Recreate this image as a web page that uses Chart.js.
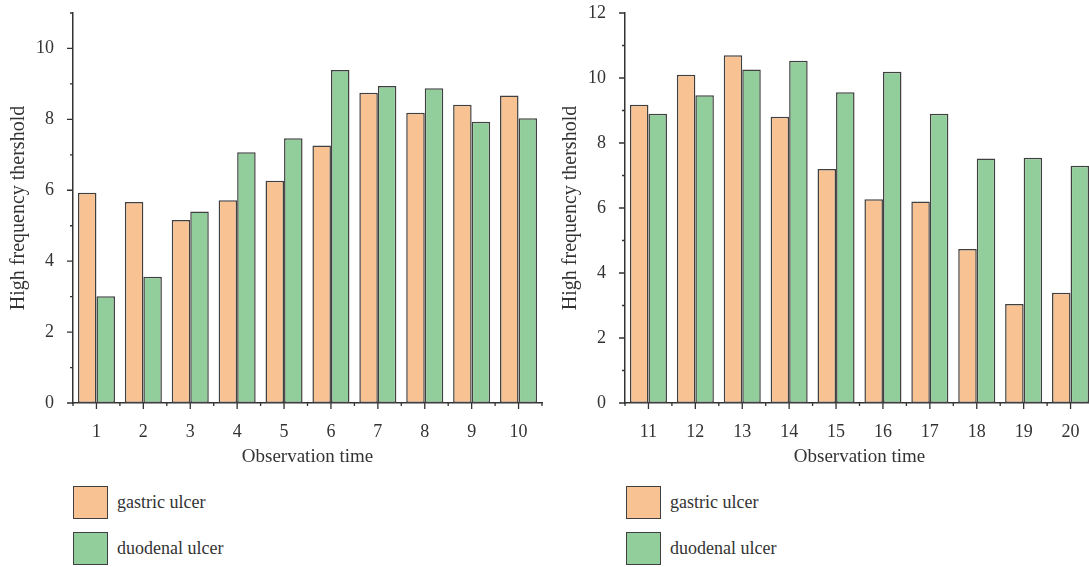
<!DOCTYPE html>
<html lang="en">
<head>
    <meta charset="UTF-8">
    <title>High frequency threshold</title>
    <script src="https://cdn.jsdelivr.net/npm/chart.js"></script>
    <style>
        body { margin: 0; width: 1089px; height: 567px; overflow: hidden; background: #fff; font-family: "Liberation Serif", serif; color: #333; }
        .panel { position: absolute; top: 0; width: 545px; height: 470px; }
        .legend { position: absolute; top: 486px; }
        .item { display: flex; align-items: center; height: 33px; margin-bottom: 13px; font-size: 18px; }
        .box { width: 33px; height: 31px; border: 1.5px solid #404040; margin-right: 9px; }
    </style>
</head>
<body>
    <div class="panel" style="left:0"><canvas id="leftChart" width="545" height="470"></canvas></div>
    <div class="panel" style="left:552px"><canvas id="rightChart" width="545" height="470"></canvas></div>
    <div class="legend" id="leftLegend" style="left:73px"></div>
    <div class="legend" id="rightLegend" style="left:626px"></div>

    <script>
        // observation times
        const timesA = ['1', '2', '3', '4', '5', '6', '7', '8', '9', '10'];
        const timesB = ['11', '12', '13', '14', '15', '16', '17', '18', '19', '20'];

        // high frequency threshold
        const gastricA = [5.93, 5.67, 5.16, 5.72, 6.27, 7.26, 8.75, 8.19, 8.41, 8.67];
        const duodenalA = [3.01, 3.56, 5.40, 7.07, 7.47, 9.39, 8.94, 8.88, 7.93, 8.03];
        const gastricB = [9.18, 10.10, 10.70, 8.81, 7.20, 6.27, 6.20, 4.74, 3.05, 3.39];
        const duodenalB = [8.90, 9.47, 10.26, 10.53, 9.56, 10.19, 8.90, 7.52, 7.55, 7.30];

        const seriesNames = ['gastric ulcer', 'duodenal ulcer'];
        const seriesColors = ['#f9c292', '#92ce9c'];
        const edge = '#404040';
        const font = { family: '"Liberation Serif", serif', size: 18 };

        // draws major / minor tick marks on both axes
        const tickMarks = {
            id: 'tickMarks',
            afterDraw(chart) {
                const ctx = chart.ctx, x = chart.scales.x, y = chart.scales.y;
                ctx.save();
                ctx.strokeStyle = '#333';
                ctx.lineWidth = 1.3;
                ctx.beginPath();
                for (let v = y.min; v <= y.max; v++) {
                    const py = y.getPixelForValue(v);
                    const len = v % 2 === 0 ? 6 : 3;
                    ctx.moveTo(x.left - len, py);
                    ctx.lineTo(x.left, py);
                }
                const n = chart.data.labels.length;
                for (let i = 0; i < n; i++) {
                    const px = x.getPixelForValue(i);
                    ctx.moveTo(px, y.bottom);
                    ctx.lineTo(px, y.bottom + 6);
                }
                for (let i = 0; i <= n; i++) {
                    const px = x.left + i * (x.right - x.left) / n;
                    ctx.moveTo(px, y.bottom);
                    ctx.lineTo(px, y.bottom + 3);
                }
                ctx.stroke();
                ctx.restore();
            }
        };

        function makeChart(id, labels, gastric, duodenal, yMax) {
            const ctx = document.getElementById(id).getContext('2d');
            return new Chart(ctx, {
                type: 'bar',
                data: {
                    labels: labels,
                    datasets: [gastric, duodenal].map((d, i) => ({
                        label: seriesNames[i],
                        data: d,
                        backgroundColor: seriesColors[i],
                        borderColor: edge,
                        borderWidth: 1.5,
                        borderSkipped: false,
                        categoryPercentage: 0.79,
                        barPercentage: 1
                    }))
                },
                options: {
                    responsive: false,
                    animation: false,
                    layout: { padding: { top: 13, right: 3, left: 0, bottom: 0 } },
                    plugins: { legend: { display: false }, tooltip: { enabled: false } },
                    scales: {
                        x: {
                            grid: { display: false },
                            border: { display: true, color: '#333', width: 1.5 },
                            ticks: { color: '#333', font: font, padding: 10, maxRotation: 0 },
                            title: { display: true, text: 'Observation time', color: '#333',
                                     font: { family: font.family, size: 19 }, padding: { top: 0, bottom: 2 } },
                            afterFit: s => { s.height = 67; s.paddingLeft = 0; s.paddingRight = 0; }
                        },
                        y: {
                            min: 0, max: yMax,
                            grid: { display: false },
                            border: { display: true, color: '#333', width: 1.5 },
                            ticks: { stepSize: 1, color: '#333', font: font, padding: 11,
                                     callback: v => v % 2 === 0 ? v : '' },
                            title: { display: true, text: 'High frequency thershold', color: '#333',
                                     font: { family: font.family, size: 20 }, padding: { top: 7, bottom: 0 } },
                            afterFit: s => { s.width = 73; s.paddingTop = 0; s.paddingBottom = 0; }
                        }
                    }
                },
                plugins: [tickMarks]
            });
        }

        function makeLegend(id) {
            const el = document.getElementById(id);
            seriesNames.forEach((name, i) => {
                const row = document.createElement('div');
                row.className = 'item';
                const box = document.createElement('div');
                box.className = 'box';
                box.style.background = seriesColors[i];
                row.appendChild(box);
                row.appendChild(document.createTextNode(name));
                el.appendChild(row);
            });
        }

        makeChart('leftChart', timesA, gastricA, duodenalA, 11);
        makeChart('rightChart', timesB, gastricB, duodenalB, 12);
        makeLegend('leftLegend');
        makeLegend('rightLegend');
    </script>
</body>
</html>
